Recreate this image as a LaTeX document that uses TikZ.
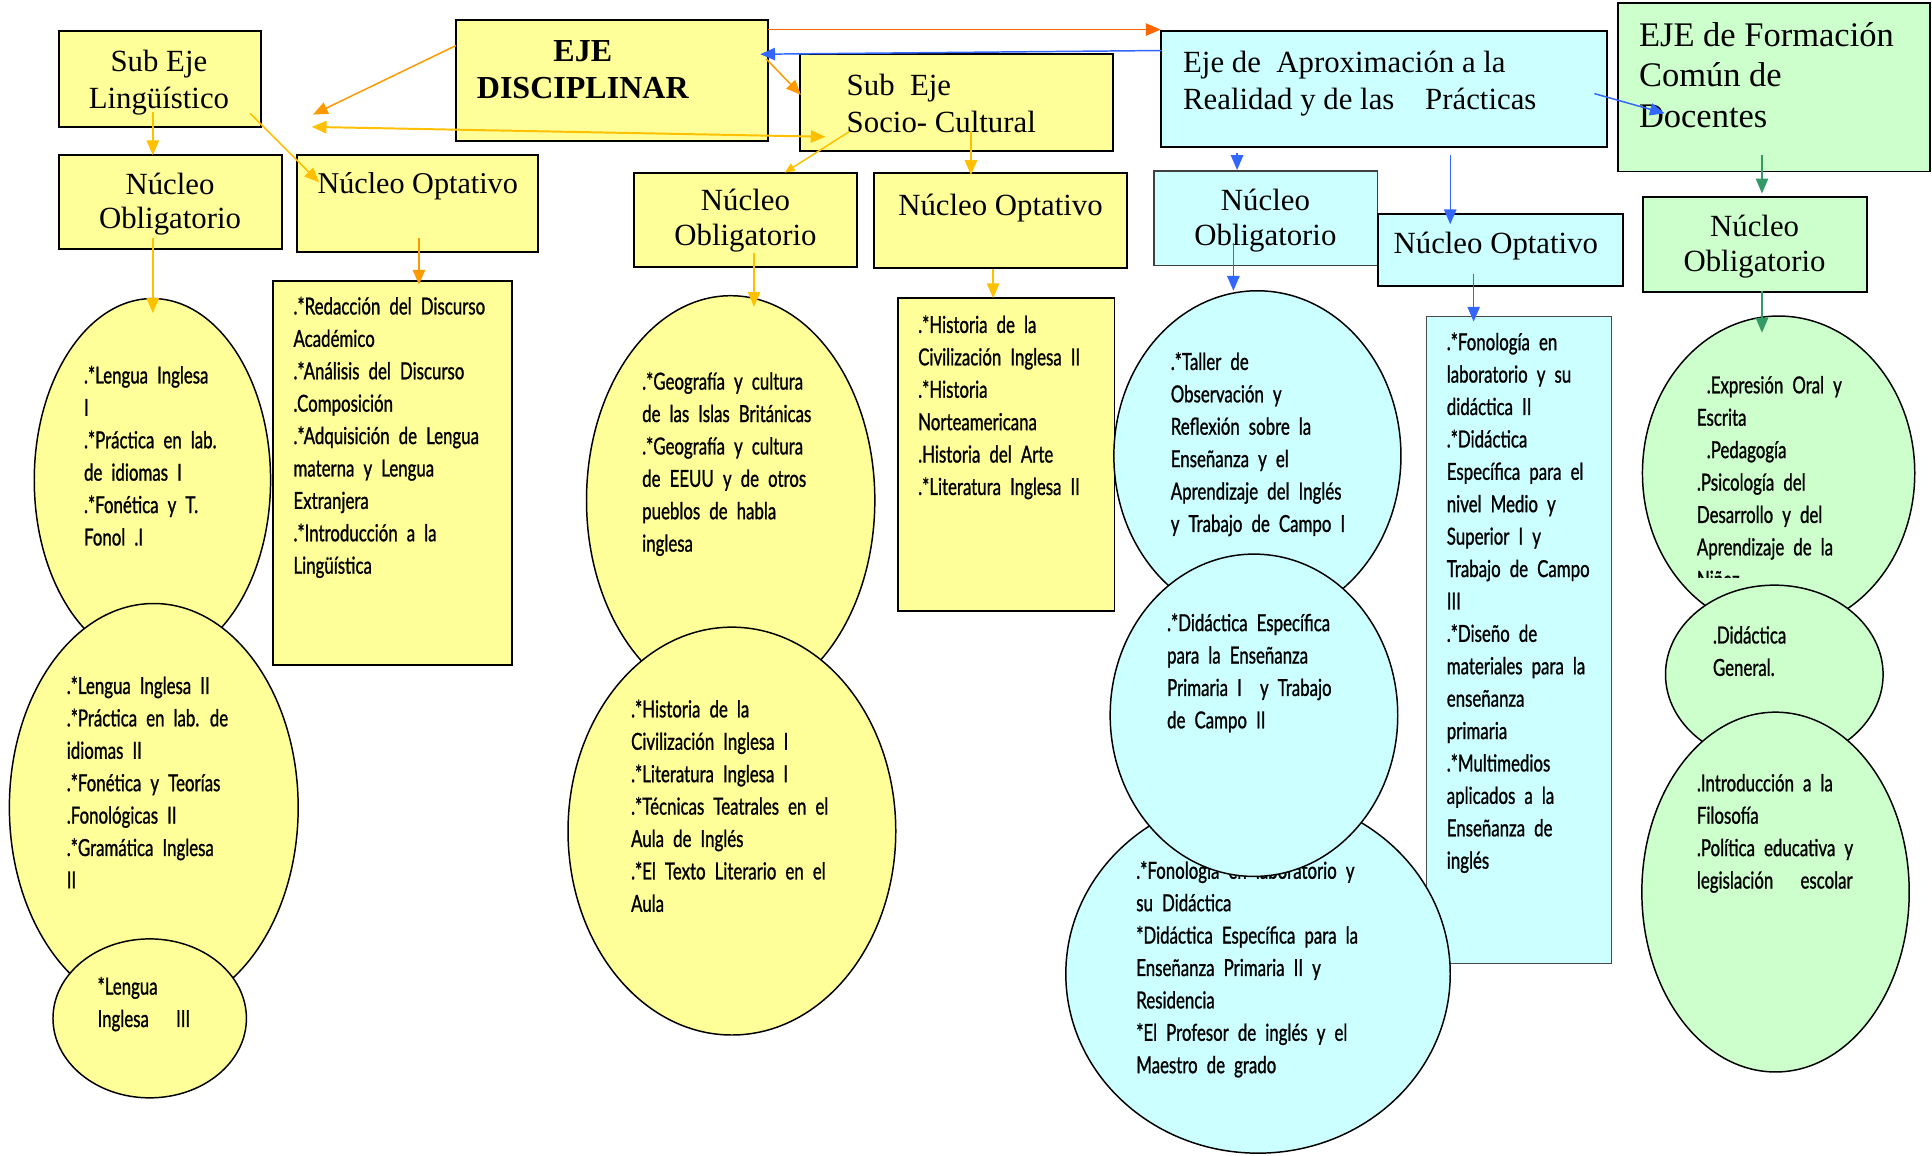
\documentclass[tikz,border=0pt]{standalone}
\usepackage{fontspec}
\setmainfont{Liberation Serif}
\newfontfamily\gillfont[FakeStretch=0.72,WordSpace=2.1,FakeBold=1.0]{Lato}
\usetikzlibrary{shapes.geometric,arrows.meta}
\definecolor{yfill}{HTML}{FFFF99}
\definecolor{cfill}{HTML}{CCFFFF}
\definecolor{gfill}{HTML}{CCFFCC}
\definecolor{cgold}{HTML}{FFC000}
\definecolor{corange}{HTML}{FF9900}
\definecolor{cred}{HTML}{FF6600}
\definecolor{cblue}{HTML}{3366FF}
\definecolor{cgreen}{HTML}{339966}
\newcommand{\fst}{\rule{0pt}{18pt}}
\begin{document}
\begin{tikzpicture}[x=1pt,y=-1pt,
 boxbase/.style={draw=black,line width=1.6pt,inner sep=0pt,outer sep=0pt,anchor=north west},
 ybox/.style={boxbase,fill=yfill},
 cbox/.style={boxbase,fill=cfill},
 gbox/.style={boxbase,fill=gfill},
 oval/.style={ellipse,draw=black,line width=1.2pt,inner sep=0pt},
 yoval/.style={oval,fill=yfill},
 coval/.style={oval,fill=cfill},
 goval/.style={oval,fill=gfill},
 lst/.style={anchor=north west,inner sep=0pt,align=left,font=\gillfont\fontsize{19}{26.3}\selectfont},
 ser/.style={inner sep=0pt,align=center,font=\fontsize{25}{28}\selectfont},
 serl/.style={inner sep=0pt,align=left,anchor=west,font=\fontsize{25}{30}\selectfont},
 arr/.style={line width=1.2pt,-{Triangle[length=12pt,width=10pt]}},
 sarr/.style={line width=1.2pt,-{Triangle[length=8pt,width=7pt]}},
]
\useasboundingbox (0,0) rectangle (1568,938.2);
\fill[white] (0,0) rectangle (1568,938.2);

% ---------- yellow boxes ----------
\node[ybox,minimum width=164pt,minimum height=78pt] (sublin) at (47.6,25) {};
\node[ser,font=\fontsize{25}{30}\selectfont] (sublint) at (129,67) {Sub Eje\\Lingüístico};
\node[ybox,minimum width=253.5pt,minimum height=98pt] (eje) at (369.8,16.2) {};
\node[ser,font=\bfseries\fontsize{26}{30}\selectfont] (ejet) at (473,56.5) {EJE\\DISCIPLINAR};
\node[ybox,minimum width=254pt,minimum height=78.6pt] (socio) at (649,44) {};
\node[serl] (sociot) at (687,84) {Sub\ \ Eje\\Socio- Cultural};
\node[ybox,minimum width=181.4pt,minimum height=76.6pt] (nol) at (47.6,125.8) {};
\node[ser] (nolt) at (138,165.5) {Núcleo\\Obligatorio};
\node[ybox,minimum width=195.6pt,minimum height=78.5pt] (nopl) at (241.4,125.8) {};
\node[ser,font=\fontsize{24.5}{28}\selectfont] (noplt) at (339,151) {Núcleo Optativo};
\node[ybox,minimum width=181pt,minimum height=76.8pt] (nom) at (514.7,140.2) {};
\node[ser] (nomt) at (605,179) {Núcleo\\Obligatorio};
\node[ybox,minimum width=205pt,minimum height=77.6pt] (nopm) at (709.7,140.2) {};
\node[ser] (nopmt) at (812,169) {Núcleo Optativo};
\node[ybox,minimum width=194pt,minimum height=312pt] (redac) at (221.5,227.8) {};
\node[ybox,minimum width=175.5pt,minimum height=253.5pt] (hist2) at (729,242) {};

% ---------- cyan boxes ----------
\node[cbox,minimum width=362pt,minimum height=94.6pt] (aprox) at (942,25) {};
\node[serl] (aproxt) at (960,68) {Eje de\ \ Aproximación a la\\Realidad y de las\ \ \ \ Prácticas};
\node[cbox,line width=1.1pt,draw=black!75,minimum width=181.7pt,minimum height=76.8pt] (noc) at (936.5,138.8) {};
\node[ser] (noct) at (1027,179) {Núcleo\\Obligatorio};
\node[cbox,minimum width=199.3pt,minimum height=58.1pt] (nopc) at (1118.2,174) {};
\node[ser] (nopct) at (1214,200) {Núcleo Optativo};
\node[cbox,line width=1pt,draw=black!70,minimum width=150.5pt,minimum height=525pt] (fonrect) at (1157.5,256.8) {};

% ---------- green boxes ----------
\node[gbox,minimum width=253.3pt,minimum height=137pt] (form) at (1313.3,2.2) {};
\node[serl,font=\fontsize{28}{33}\selectfont] (formt) at (1330,61) {EJE de Formación\\Común de\\Docentes};
\node[gbox,minimum width=182.3pt,minimum height=77pt] (nog) at (1333.3,159.6) {};
\node[ser] (nogt) at (1424,200) {Núcleo\\Obligatorio};

% ---------- text of rectangles ----------
\node[lst] (redact) at (238,237) {\fst.*Redacción del Discurso\\Académico\\.*Análisis del Discurso\\.Composición\\.*Adquisición de Lengua\\materna y Lengua\\Extranjera\\.*Introducción a la\\Lingüística};
\node[lst] (hist2t) at (745,252) {\fst.*Historia de la\\Civilización Inglesa II\\.*Historia\\Norteamericana\\.Historia del Arte\\.*Literatura Inglesa II};
\node[lst] (fonrectt) at (1174,266) {\fst.*Fonología en\\laboratorio y su\\didáctica II\\.*Didáctica\\Específica para el\\nivel Medio y\\Superior I y\\Trabajo de Campo\\III\\.*Diseño de\\materiales para la\\enseñanza\\primaria\\.*Multimedios\\aplicados a la\\Enseñanza de\\inglés};

% ---------- yellow ovals (left) ----------
\node[yoval,minimum width=191.8pt,minimum height=294.8pt] (l1) at (123.7,389.7) {};
\node[lst] (l1t) at (68,293) {\fst.*Lengua Inglesa\\I\\.*Práctica en lab.\\de idiomas I\\.*Fonética y T.\\Fonol .I};
\node[yoval,minimum width=234.4pt,minimum height=331pt] (l2) at (124.8,655.3) {};
\node[lst] (l2t) at (54,545) {\fst.*Lengua Inglesa II\\.*Práctica en lab. de\\idiomas II\\.*Fonética y Teorías\\.Fonológicas II\\.*Gramática Inglesa\\II};
\node[yoval,minimum width=157pt,minimum height=129pt] (l3) at (121.5,826.5) {};
\node[lst] (l3t) at (79,789) {\fst*Lengua\\Inglesa\ \ \ III};

% ---------- yellow ovals (middle) ----------
\node[yoval,minimum width=234pt,minimum height=332pt] (geo) at (593,406) {};
\node[lst] (geot) at (521,298) {\fst.*Geografía y cultura\\de las Islas Británicas\\.*Geografía y cultura\\de EEUU y de otros\\pueblos de habla\\inglesa};
\node[yoval,minimum width=266pt,minimum height=331pt] (hist1) at (594,674.5) {};
\node[lst] (hist1t) at (512,564) {\fst.*Historia de la\\Civilización Inglesa I\\.*Literatura Inglesa I\\.*Técnicas Teatrales en el\\Aula de Inglés\\.*El Texto Literario en el\\Aula};

% ---------- cyan ovals ----------
\node[coval,minimum width=233pt,minimum height=268pt] (taller) at (1020.5,370) {};
\node[lst] (tallert) at (950,282) {\fst.*Taller de\\Observación y\\Reflexión sobre la\\Enseñanza y el\\Aprendizaje del Inglés\\y Trabajo de Campo I};
\node[coval,minimum width=312pt,minimum height=291pt] (fonol) at (1021,790.4) {};
\node[lst] (fonolt) at (922,695) {\fst.*Fonología en laboratorio y\\su Didáctica\\*Didáctica Específica para la\\Enseñanza Primaria II y\\Residencia\\*El Profesor de inglés y el\\Maestro de grado};
\node[coval,minimum width=233.4pt,minimum height=261.6pt] (didac) at (1017.7,580.5) {};
\node[lst] (didact) at (947,494) {\fst.*Didáctica Específica\\para la Enseñanza\\Primaria I\ \ y Trabajo\\de Campo II};

% ---------- green ovals ----------
\node[goval,minimum width=221pt,minimum height=255pt] (expr) at (1443.5,384) {};
\begin{scope}
\clip (1330,250) rectangle (1560,469);
\node[lst] (exprt) at (1377,301) {\fst\hspace{8pt}.Expresión Oral y\\Escrita\\\hspace{8pt}.Pedagogía\\.Psicología del\\Desarrollo y del\\Aprendizaje de la\\Niñez};
\end{scope}
\node[goval,minimum width=176.6pt,minimum height=145pt] (didg) at (1440,547.4) {};
\node[lst] (didgt) at (1390,504) {\fst.Didáctica\\General.};
\node[goval,minimum width=217pt,minimum height=292pt] (intro) at (1441,724) {};
\node[lst] (introt) at (1377,624) {\fst.Introducción a la\\Filosofía\\.Política educativa y\\legislación\ \ \ escolar};

% ---------- connector end points ----------
\coordinate (a1s) at (370,37);    \coordinate (a1e) at (254,93);
\coordinate (a2s) at (253,103);   \coordinate (a2e) at (670,111);
\coordinate (a3s) at (203,92);    \coordinate (a3e) at (259,148);
\coordinate (a4s) at (124,91);    \coordinate (a4e) at (124,126);
\coordinate (a5s) at (124,193);   \coordinate (a5e) at (124,254);
\coordinate (a6s) at (340,193);   \coordinate (a6e) at (340,231);
\coordinate (a7s) at (622,48);    \coordinate (a7e) at (650,77);
\coordinate (a8s) at (623,24);    \coordinate (a8e) at (942,24);
\coordinate (a9s) at (943,41);    \coordinate (a9e) at (617,44);
\coordinate (a10s) at (689,107);  \coordinate (a10e) at (637,140);
\coordinate (a11s) at (788,106);  \coordinate (a11e) at (788,142);
\coordinate (a12s) at (612,205);  \coordinate (a12e) at (612,249);
\coordinate (a13s) at (806,218);  \coordinate (a13e) at (806,242);
\coordinate (a14s) at (1004,124); \coordinate (a14e) at (1004,138);
\coordinate (a15s) at (1177,126); \coordinate (a15e) at (1177,182);
\coordinate (a16s) at (1001,197); \coordinate (a16e) at (1001,236);
\coordinate (a17s) at (1196,222); \coordinate (a17e) at (1196,261);
\coordinate (a18s) at (1294,76);  \coordinate (a18e) at (1351,92);
\coordinate (a19s) at (1430,126); \coordinate (a19e) at (1430,157);
\coordinate (a20s) at (1430,236); \coordinate (a20e) at (1430,270);

% ---------- connectors ----------
\draw[arr,corange] (a1s) -- (a1e);
\draw[line width=1.6pt,cgold,{Triangle[length=12pt,width=10pt]}-{Triangle[length=12pt,width=10pt]}] (a2s) -- (a2e);
\draw[arr,cgold] (a3s) -- (a3e);
\draw[arr,cgold] (a4s) -- (a4e);
\draw[arr,cgold] (a5s) -- (a5e);
\draw[arr,corange] (a6s) -- (a6e);
\draw[arr,corange] (a7s) -- (a7e);
\draw[arr,cred] (a8s) -- (a8e);
\draw[arr,cblue] (a9s) -- (a9e);
\draw[sarr,cgold] (a10s) -- (a10e);
\draw[arr,cgold] (a11s) -- (a11e);
\draw[arr,cgold] (a12s) -- (a12e);
\draw[arr,cgold] (a13s) -- (a13e);
\draw[arr,cblue] (a14s) -- (a14e);
\draw[arr,cblue] (a15s) -- (a15e);
\draw[arr,cblue] (a16s) -- (a16e);
\draw[arr,cblue] (a17s) -- (a17e);
\draw[arr,cblue] (a18s) -- (a18e);
\draw[arr,cgreen] (a19s) -- (a19e);
\draw[arr,cgreen] (a20s) -- (a20e);
\end{tikzpicture}
\end{document}
